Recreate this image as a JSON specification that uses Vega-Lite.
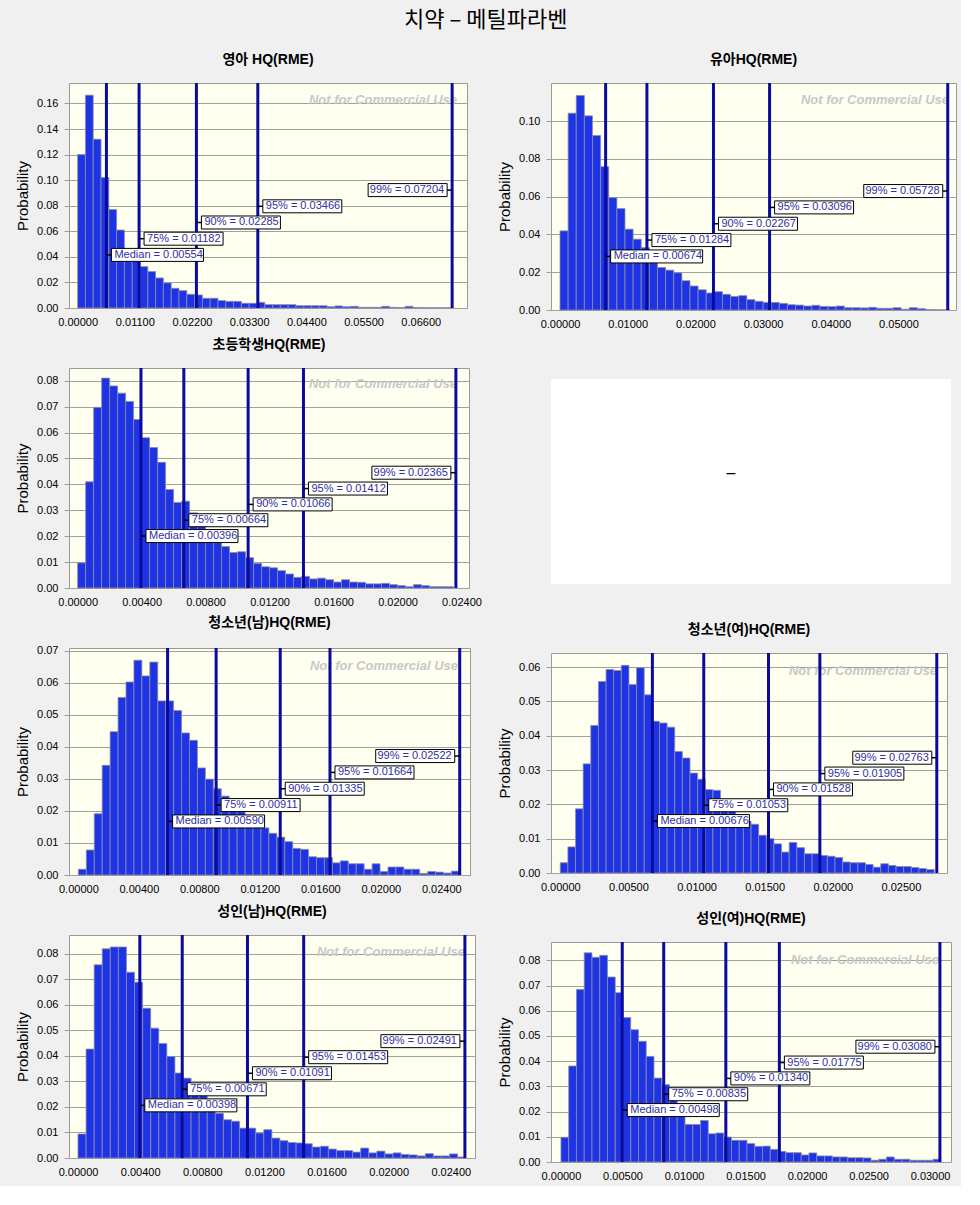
{
"$schema": "https://vega.github.io/schema/vega-lite/v6.json",
"padding": {"left": 15, "top": 9, "right": 4, "bottom": 4},
"title": {"text": "치약 – 메틸파라벤", "font": "Noto Sans CJK KR", "fontSize": 22, "fontWeight": "normal", "offset": 20, "anchor": "middle", "color": "black"},
"datasets": {
"b1": [
{"lo":0,"hi":0.0015,"p":0.12},{"lo":0.0015,"hi":0.003,"p":0.1665},{"lo":0.003,"hi":0.0045,"p":0.132},{"lo":0.0045,"hi":0.006,"p":0.102},{"lo":0.006,"hi":0.0075,"p":0.077},{"lo":0.0075,"hi":0.009,"p":0.061},{"lo":0.009,"hi":0.0105,"p":0.045},{"lo":0.0105,"hi":0.012,"p":0.04},{"lo":0.012,"hi":0.0135,"p":0.0324},{"lo":0.0135,"hi":0.015,"p":0.0285},
{"lo":0.015,"hi":0.0165,"p":0.0235},{"lo":0.0165,"hi":0.018,"p":0.0196},{"lo":0.018,"hi":0.0195,"p":0.0154},{"lo":0.0195,"hi":0.021,"p":0.0136},{"lo":0.021,"hi":0.0225,"p":0.0107},{"lo":0.0225,"hi":0.024,"p":0.0102},{"lo":0.024,"hi":0.0255,"p":0.0076},{"lo":0.0255,"hi":0.027,"p":0.0076},{"lo":0.027,"hi":0.0285,"p":0.0058},{"lo":0.0285,"hi":0.03,"p":0.0052},
{"lo":0.03,"hi":0.0315,"p":0.0052},{"lo":0.0315,"hi":0.033,"p":0.0037},{"lo":0.033,"hi":0.0345,"p":0.0037},{"lo":0.0345,"hi":0.036,"p":0.0044},{"lo":0.036,"hi":0.0375,"p":0.0026},{"lo":0.0375,"hi":0.039,"p":0.0026},{"lo":0.039,"hi":0.0405,"p":0.0026},{"lo":0.0405,"hi":0.042,"p":0.0026},{"lo":0.042,"hi":0.0435,"p":0.0018},{"lo":0.0435,"hi":0.045,"p":0.0018},
{"lo":0.045,"hi":0.0465,"p":0.0018},{"lo":0.0465,"hi":0.048,"p":0.0018},{"lo":0.048,"hi":0.0495,"p":0.001},{"lo":0.0495,"hi":0.051,"p":0.0016},{"lo":0.051,"hi":0.0525,"p":0.001},{"lo":0.0525,"hi":0.054,"p":0.0013},{"lo":0.054,"hi":0.0555,"p":0.0005},{"lo":0.0555,"hi":0.057,"p":0.0005},{"lo":0.057,"hi":0.0585,"p":0.0005},{"lo":0.0585,"hi":0.06,"p":0.0013},
{"lo":0.06,"hi":0.0615,"p":0.0005},{"lo":0.0615,"hi":0.063,"p":0.0003},{"lo":0.063,"hi":0.0645,"p":0.0013},{"lo":0.0645,"hi":0.066,"p":0.0003},{"lo":0.066,"hi":0.0675,"p":0.0002},{"lo":0.0675,"hi":0.069,"p":0.0002},{"lo":0.069,"hi":0.0705,"p":0.0001},{"lo":0.0705,"hi":0.072,"p":0.0001}
],
"b2": [
{"lo":0,"hi":0.0012,"p":0.0419},{"lo":0.0012,"hi":0.0024,"p":0.1042},{"lo":0.0024,"hi":0.0036,"p":0.1136},{"lo":0.0036,"hi":0.0048,"p":0.1028},{"lo":0.0048,"hi":0.006,"p":0.0924},{"lo":0.006,"hi":0.0072,"p":0.0759},{"lo":0.0072,"hi":0.0084,"p":0.0595},{"lo":0.0084,"hi":0.0096,"p":0.0537},{"lo":0.0096,"hi":0.0108,"p":0.0428},{"lo":0.0108,"hi":0.012,"p":0.0375},
{"lo":0.012,"hi":0.0132,"p":0.033},{"lo":0.0132,"hi":0.0144,"p":0.027},{"lo":0.0144,"hi":0.0156,"p":0.0225},{"lo":0.0156,"hi":0.0168,"p":0.0211},{"lo":0.0168,"hi":0.018,"p":0.0197},{"lo":0.018,"hi":0.0192,"p":0.0155},{"lo":0.0192,"hi":0.0204,"p":0.0127},{"lo":0.0204,"hi":0.0216,"p":0.0107},{"lo":0.0216,"hi":0.0228,"p":0.009},{"lo":0.0228,"hi":0.024,"p":0.0097},
{"lo":0.024,"hi":0.0252,"p":0.0083},{"lo":0.0252,"hi":0.0264,"p":0.0072},{"lo":0.0264,"hi":0.0276,"p":0.0076},{"lo":0.0276,"hi":0.0288,"p":0.0055},{"lo":0.0288,"hi":0.03,"p":0.0046},{"lo":0.03,"hi":0.0312,"p":0.004},{"lo":0.0312,"hi":0.0324,"p":0.004},{"lo":0.0324,"hi":0.0336,"p":0.0035},{"lo":0.0336,"hi":0.0348,"p":0.0028},{"lo":0.0348,"hi":0.036,"p":0.0026},
{"lo":0.036,"hi":0.0372,"p":0.0021},{"lo":0.0372,"hi":0.0384,"p":0.0025},{"lo":0.0384,"hi":0.0396,"p":0.0019},{"lo":0.0396,"hi":0.0408,"p":0.0018},{"lo":0.0408,"hi":0.042,"p":0.0021},{"lo":0.042,"hi":0.0432,"p":0.0012},{"lo":0.0432,"hi":0.0444,"p":0.0012},{"lo":0.0444,"hi":0.0456,"p":0.0011},{"lo":0.0456,"hi":0.0468,"p":0.0014},{"lo":0.0468,"hi":0.048,"p":0.0009},
{"lo":0.048,"hi":0.0492,"p":0.0009},{"lo":0.0492,"hi":0.0504,"p":0.0012},{"lo":0.0504,"hi":0.0516,"p":0.0004},{"lo":0.0516,"hi":0.0528,"p":0.0012},{"lo":0.0528,"hi":0.054,"p":0.0007},{"lo":0.054,"hi":0.0552,"p":0.0002},{"lo":0.0552,"hi":0.0564,"p":0.0001},{"lo":0.0564,"hi":0.0576,"p":0.0001}
],
"b3": [
{"lo":0,"hi":0.0005,"p":0.0097},{"lo":0.0005,"hi":0.001,"p":0.041},{"lo":0.001,"hi":0.0015,"p":0.0697},{"lo":0.0015,"hi":0.002,"p":0.081},{"lo":0.002,"hi":0.0025,"p":0.078},{"lo":0.0025,"hi":0.003,"p":0.0752},{"lo":0.003,"hi":0.0035,"p":0.072},{"lo":0.0035,"hi":0.004,"p":0.065},{"lo":0.004,"hi":0.0045,"p":0.058},{"lo":0.0045,"hi":0.005,"p":0.0542},
{"lo":0.005,"hi":0.0055,"p":0.0485},{"lo":0.0055,"hi":0.006,"p":0.038},{"lo":0.006,"hi":0.0065,"p":0.033},{"lo":0.0065,"hi":0.007,"p":0.0335},{"lo":0.007,"hi":0.0075,"p":0.029},{"lo":0.0075,"hi":0.008,"p":0.026},{"lo":0.008,"hi":0.0085,"p":0.021},{"lo":0.0085,"hi":0.009,"p":0.0175},{"lo":0.009,"hi":0.0095,"p":0.016},{"lo":0.0095,"hi":0.01,"p":0.0137},
{"lo":0.01,"hi":0.0105,"p":0.014},{"lo":0.0105,"hi":0.011,"p":0.0117},{"lo":0.011,"hi":0.0115,"p":0.0095},{"lo":0.0115,"hi":0.012,"p":0.0082},{"lo":0.012,"hi":0.0125,"p":0.0078},{"lo":0.0125,"hi":0.013,"p":0.0067},{"lo":0.013,"hi":0.0135,"p":0.0054},{"lo":0.0135,"hi":0.014,"p":0.0041},{"lo":0.014,"hi":0.0145,"p":0.0045},{"lo":0.0145,"hi":0.015,"p":0.0035},
{"lo":0.015,"hi":0.0155,"p":0.0038},{"lo":0.0155,"hi":0.016,"p":0.0032},{"lo":0.016,"hi":0.0165,"p":0.0023},{"lo":0.0165,"hi":0.017,"p":0.0032},{"lo":0.017,"hi":0.0175,"p":0.0023},{"lo":0.0175,"hi":0.018,"p":0.0022},{"lo":0.018,"hi":0.0185,"p":0.0016},{"lo":0.0185,"hi":0.019,"p":0.0016},{"lo":0.019,"hi":0.0195,"p":0.0018},{"lo":0.0195,"hi":0.02,"p":0.0013},
{"lo":0.02,"hi":0.0205,"p":0.0009},{"lo":0.0205,"hi":0.021,"p":0.0005},{"lo":0.021,"hi":0.0215,"p":0.0013},{"lo":0.0215,"hi":0.022,"p":0.0009},{"lo":0.022,"hi":0.0225,"p":0.0005},{"lo":0.0225,"hi":0.023,"p":0.0005},{"lo":0.023,"hi":0.0235,"p":0.0005}
],
"b4": [
{"lo":0,"hi":0.000525,"p":0.0018},{"lo":0.000525,"hi":0.00105,"p":0.0078},{"lo":0.00105,"hi":0.001575,"p":0.0191},{"lo":0.001575,"hi":0.0021,"p":0.0342},{"lo":0.0021,"hi":0.002625,"p":0.0447},{"lo":0.002625,"hi":0.00315,"p":0.0554},{"lo":0.00315,"hi":0.003675,"p":0.0602},{"lo":0.003675,"hi":0.0042,"p":0.067},{"lo":0.0042,"hi":0.004725,"p":0.0621},{"lo":0.004725,"hi":0.00525,"p":0.0664},
{"lo":0.00525,"hi":0.005775,"p":0.0543},{"lo":0.005775,"hi":0.0063,"p":0.0543},{"lo":0.0063,"hi":0.006825,"p":0.0513},{"lo":0.006825,"hi":0.00735,"p":0.0443},{"lo":0.00735,"hi":0.007875,"p":0.042},{"lo":0.007875,"hi":0.0084,"p":0.0334},{"lo":0.0084,"hi":0.008925,"p":0.0299},{"lo":0.008925,"hi":0.00945,"p":0.0269},{"lo":0.00945,"hi":0.009975,"p":0.0246},{"lo":0.009975,"hi":0.0105,"p":0.022},
{"lo":0.0105,"hi":0.011025,"p":0.02},{"lo":0.011025,"hi":0.01155,"p":0.018},{"lo":0.01155,"hi":0.012075,"p":0.0155},{"lo":0.012075,"hi":0.0126,"p":0.0147},{"lo":0.0126,"hi":0.013125,"p":0.013},{"lo":0.013125,"hi":0.01365,"p":0.0118},{"lo":0.01365,"hi":0.014175,"p":0.0104},{"lo":0.014175,"hi":0.0147,"p":0.0083},{"lo":0.0147,"hi":0.015225,"p":0.008},{"lo":0.015225,"hi":0.01575,"p":0.0057},
{"lo":0.01575,"hi":0.016275,"p":0.0054},{"lo":0.016275,"hi":0.0168,"p":0.0054},{"lo":0.0168,"hi":0.017325,"p":0.0038},{"lo":0.017325,"hi":0.01785,"p":0.0044},{"lo":0.01785,"hi":0.018375,"p":0.0035},{"lo":0.018375,"hi":0.0189,"p":0.0035},{"lo":0.0189,"hi":0.019425,"p":0.0018},{"lo":0.019425,"hi":0.01995,"p":0.0035},{"lo":0.01995,"hi":0.020475,"p":0.0011},{"lo":0.020475,"hi":0.021,"p":0.0025},
{"lo":0.021,"hi":0.021525,"p":0.0025},{"lo":0.021525,"hi":0.02205,"p":0.0018},{"lo":0.02205,"hi":0.022575,"p":0.0018},{"lo":0.022575,"hi":0.0231,"p":0.0005},{"lo":0.0231,"hi":0.023625,"p":0.0011},{"lo":0.023625,"hi":0.02415,"p":0.0009},{"lo":0.02415,"hi":0.024675,"p":0.0006},{"lo":0.024675,"hi":0.0252,"p":0.0012}
],
"b5": [
{"lo":0,"hi":0.00056,"p":0.003},{"lo":0.00056,"hi":0.00112,"p":0.0076},{"lo":0.00112,"hi":0.00168,"p":0.0187},{"lo":0.00168,"hi":0.00224,"p":0.0318},{"lo":0.00224,"hi":0.0028,"p":0.043},{"lo":0.0028,"hi":0.00336,"p":0.0558},{"lo":0.00336,"hi":0.00392,"p":0.0593},{"lo":0.00392,"hi":0.00448,"p":0.059},{"lo":0.00448,"hi":0.00504,"p":0.0605},{"lo":0.00504,"hi":0.0056,"p":0.0549},
{"lo":0.0056,"hi":0.00616,"p":0.0598},{"lo":0.00616,"hi":0.00672,"p":0.0519},{"lo":0.00672,"hi":0.00728,"p":0.0442},{"lo":0.00728,"hi":0.00784,"p":0.0437},{"lo":0.00784,"hi":0.0084,"p":0.0425},{"lo":0.0084,"hi":0.00896,"p":0.0354},{"lo":0.00896,"hi":0.00952,"p":0.0335},{"lo":0.00952,"hi":0.01008,"p":0.0291},{"lo":0.01008,"hi":0.01064,"p":0.0273},{"lo":0.01064,"hi":0.0112,"p":0.0243},
{"lo":0.0112,"hi":0.01176,"p":0.0241},{"lo":0.01176,"hi":0.01232,"p":0.021},{"lo":0.01232,"hi":0.01288,"p":0.019},{"lo":0.01288,"hi":0.01344,"p":0.0165},{"lo":0.01344,"hi":0.014,"p":0.0151},{"lo":0.014,"hi":0.01456,"p":0.0142},{"lo":0.01456,"hi":0.01512,"p":0.011},{"lo":0.01512,"hi":0.01568,"p":0.01},{"lo":0.01568,"hi":0.01624,"p":0.0085},{"lo":0.01624,"hi":0.0168,"p":0.0061},
{"lo":0.0168,"hi":0.01736,"p":0.0089},{"lo":0.01736,"hi":0.01792,"p":0.0074},{"lo":0.01792,"hi":0.01848,"p":0.0056},{"lo":0.01848,"hi":0.01904,"p":0.0056},{"lo":0.01904,"hi":0.0196,"p":0.0051},{"lo":0.0196,"hi":0.02016,"p":0.0049},{"lo":0.02016,"hi":0.02072,"p":0.0045},{"lo":0.02072,"hi":0.02128,"p":0.0032},{"lo":0.02128,"hi":0.02184,"p":0.003},{"lo":0.02184,"hi":0.0224,"p":0.003},
{"lo":0.0224,"hi":0.02296,"p":0.0025},{"lo":0.02296,"hi":0.02352,"p":0.0017},{"lo":0.02352,"hi":0.02408,"p":0.0027},{"lo":0.02408,"hi":0.02464,"p":0.0022},{"lo":0.02464,"hi":0.0252,"p":0.0019},{"lo":0.0252,"hi":0.02576,"p":0.0019},{"lo":0.02576,"hi":0.02632,"p":0.0016},{"lo":0.02632,"hi":0.02688,"p":0.0013},{"lo":0.02688,"hi":0.02744,"p":0.001}
],
"b6": [
{"lo":0,"hi":0.00052,"p":0.0094},{"lo":0.00052,"hi":0.00104,"p":0.0427},{"lo":0.00104,"hi":0.00156,"p":0.0757},{"lo":0.00156,"hi":0.00208,"p":0.082},{"lo":0.00208,"hi":0.0026,"p":0.0827},{"lo":0.0026,"hi":0.00312,"p":0.0827},{"lo":0.00312,"hi":0.00364,"p":0.0728},{"lo":0.00364,"hi":0.00416,"p":0.0689},{"lo":0.00416,"hi":0.00468,"p":0.0587},{"lo":0.00468,"hi":0.0052,"p":0.0509},
{"lo":0.0052,"hi":0.00572,"p":0.0449},{"lo":0.00572,"hi":0.00624,"p":0.0398},{"lo":0.00624,"hi":0.00676,"p":0.0333},{"lo":0.00676,"hi":0.00728,"p":0.0313},{"lo":0.00728,"hi":0.0078,"p":0.0285},{"lo":0.0078,"hi":0.00832,"p":0.025},{"lo":0.00832,"hi":0.00884,"p":0.0215},{"lo":0.00884,"hi":0.00936,"p":0.0175},{"lo":0.00936,"hi":0.00988,"p":0.015},{"lo":0.00988,"hi":0.0104,"p":0.0144},
{"lo":0.0104,"hi":0.01092,"p":0.0117},{"lo":0.01092,"hi":0.01144,"p":0.0117},{"lo":0.01144,"hi":0.01196,"p":0.0098},{"lo":0.01196,"hi":0.01248,"p":0.0111},{"lo":0.01248,"hi":0.013,"p":0.0078},{"lo":0.013,"hi":0.01352,"p":0.0068},{"lo":0.01352,"hi":0.01404,"p":0.0061},{"lo":0.01404,"hi":0.01456,"p":0.0059},{"lo":0.01456,"hi":0.01508,"p":0.0056},{"lo":0.01508,"hi":0.0156,"p":0.0043},
{"lo":0.0156,"hi":0.01612,"p":0.0046},{"lo":0.01612,"hi":0.01664,"p":0.0035},{"lo":0.01664,"hi":0.01716,"p":0.0029},{"lo":0.01716,"hi":0.01768,"p":0.0029},{"lo":0.01768,"hi":0.0182,"p":0.0023},{"lo":0.0182,"hi":0.01872,"p":0.0039},{"lo":0.01872,"hi":0.01924,"p":0.002},{"lo":0.01924,"hi":0.01976,"p":0.0027},{"lo":0.01976,"hi":0.02028,"p":0.0016},{"lo":0.02028,"hi":0.0208,"p":0.002},
{"lo":0.0208,"hi":0.02132,"p":0.0014},{"lo":0.02132,"hi":0.02184,"p":0.0012},{"lo":0.02184,"hi":0.02236,"p":0.0008},{"lo":0.02236,"hi":0.02288,"p":0.0017},{"lo":0.02288,"hi":0.0234,"p":0.0008},{"lo":0.0234,"hi":0.02392,"p":0.0008},{"lo":0.02392,"hi":0.02444,"p":0.0016},{"lo":0.02444,"hi":0.02496,"p":0.0004}
],
"b7": [
{"lo":0,"hi":0.00063,"p":0.0098},{"lo":0.00063,"hi":0.00126,"p":0.0381},{"lo":0.00126,"hi":0.00189,"p":0.0685},{"lo":0.00189,"hi":0.00252,"p":0.083},{"lo":0.00252,"hi":0.00315,"p":0.0812},{"lo":0.00315,"hi":0.00378,"p":0.082},{"lo":0.00378,"hi":0.00441,"p":0.0734},{"lo":0.00441,"hi":0.00504,"p":0.0672},{"lo":0.00504,"hi":0.00567,"p":0.0573},{"lo":0.00567,"hi":0.0063,"p":0.0525},
{"lo":0.0063,"hi":0.00693,"p":0.0479},{"lo":0.00693,"hi":0.00756,"p":0.0419},{"lo":0.00756,"hi":0.00819,"p":0.0333},{"lo":0.00819,"hi":0.00882,"p":0.0307},{"lo":0.00882,"hi":0.00945,"p":0.0265},{"lo":0.00945,"hi":0.01008,"p":0.0205},{"lo":0.01008,"hi":0.01071,"p":0.0149},{"lo":0.01071,"hi":0.01134,"p":0.0149},{"lo":0.01134,"hi":0.01197,"p":0.0165},{"lo":0.01197,"hi":0.0126,"p":0.0112},
{"lo":0.0126,"hi":0.01323,"p":0.0115},{"lo":0.01323,"hi":0.01386,"p":0.0099},{"lo":0.01386,"hi":0.01449,"p":0.0086},{"lo":0.01449,"hi":0.01512,"p":0.0086},{"lo":0.01512,"hi":0.01575,"p":0.0073},{"lo":0.01575,"hi":0.01638,"p":0.0062},{"lo":0.01638,"hi":0.01701,"p":0.0063},{"lo":0.01701,"hi":0.01764,"p":0.005},{"lo":0.01764,"hi":0.01827,"p":0.0042},{"lo":0.01827,"hi":0.0189,"p":0.0037},
{"lo":0.0189,"hi":0.01953,"p":0.0037},{"lo":0.01953,"hi":0.02016,"p":0.0028},{"lo":0.02016,"hi":0.02079,"p":0.0036},{"lo":0.02079,"hi":0.02142,"p":0.0024},{"lo":0.02142,"hi":0.02205,"p":0.0024},{"lo":0.02205,"hi":0.02268,"p":0.002},{"lo":0.02268,"hi":0.02331,"p":0.002},{"lo":0.02331,"hi":0.02394,"p":0.0017},{"lo":0.02394,"hi":0.02457,"p":0.0017},{"lo":0.02457,"hi":0.0252,"p":0.0016},
{"lo":0.0252,"hi":0.02583,"p":0.0007},{"lo":0.02583,"hi":0.02646,"p":0.0011},{"lo":0.02646,"hi":0.02709,"p":0.002},{"lo":0.02709,"hi":0.02772,"p":0.0011},{"lo":0.02772,"hi":0.02835,"p":0.0011},{"lo":0.02835,"hi":0.02898,"p":0.0007},{"lo":0.02898,"hi":0.02961,"p":0.0007},{"lo":0.02961,"hi":0.03024,"p":0.0007},{"lo":0.03024,"hi":0.03087,"p":0.0011}
],
"q1": [{"r":0,"v":0.00554,"t":"Median = 0.00554"},{"r":1,"v":0.01182,"t":"75% = 0.01182"},{"r":2,"v":0.02285,"t":"90% = 0.02285"},{"r":3,"v":0.03466,"t":"95% = 0.03466"},{"r":4,"v":0.07204,"t":"99% = 0.07204"}],
"q2": [{"r":0,"v":0.00674,"t":"Median = 0.00674"},{"r":1,"v":0.01284,"t":"75% = 0.01284"},{"r":2,"v":0.02267,"t":"90% = 0.02267"},{"r":3,"v":0.03096,"t":"95% = 0.03096"},{"r":4,"v":0.05728,"t":"99% = 0.05728"}],
"q3": [{"r":0,"v":0.00396,"t":"Median = 0.00396"},{"r":1,"v":0.00664,"t":"75% = 0.00664"},{"r":2,"v":0.01066,"t":"90% = 0.01066"},{"r":3,"v":0.01412,"t":"95% = 0.01412"},{"r":4,"v":0.02365,"t":"99% = 0.02365"}],
"q4": [{"r":0,"v":0.0059,"t":"Median = 0.00590"},{"r":1,"v":0.00911,"t":"75% = 0.00911"},{"r":2,"v":0.01335,"t":"90% = 0.01335"},{"r":3,"v":0.01664,"t":"95% = 0.01664"},{"r":4,"v":0.02522,"t":"99% = 0.02522"}],
"q5": [{"r":0,"v":0.00676,"t":"Median = 0.00676"},{"r":1,"v":0.01053,"t":"75% = 0.01053"},{"r":2,"v":0.01528,"t":"90% = 0.01528"},{"r":3,"v":0.01905,"t":"95% = 0.01905"},{"r":4,"v":0.02763,"t":"99% = 0.02763"}],
"q6": [{"r":0,"v":0.00398,"t":"Median = 0.00398"},{"r":1,"v":0.00671,"t":"75% = 0.00671"},{"r":2,"v":0.01091,"t":"90% = 0.01091"},{"r":3,"v":0.01453,"t":"95% = 0.01453"},{"r":4,"v":0.02491,"t":"99% = 0.02491"}],
"q7": [{"r":0,"v":0.00498,"t":"Median = 0.00498"},{"r":1,"v":0.00835,"t":"75% = 0.00835"},{"r":2,"v":0.0134,"t":"90% = 0.01340"},{"r":3,"v":0.01775,"t":"95% = 0.01775"},{"r":4,"v":0.0308,"t":"99% = 0.03080"}]
},
"hconcat": [
{"vconcat": [
{"width": 398, "height": 225, "title": "영아 HQ(RME)", "resolve": {"scale": {"y": "independent"}},
 "layer": [
  {"data": {"name": "b1"}, "mark": {"type": "bar", "fill": "#1E34E4", "stroke": "#8C8CA8", "strokeWidth": 0.8},
   "encoding": {"x": {"field": "lo", "type": "quantitative", "scale": {"domain": [-0.00166, 0.0749], "nice": false, "zero": false}, "axis": {"values": [0, 0.011, 0.022, 0.033, 0.044, 0.055, 0.066], "format": ".5f", "title": null}}, "x2": {"field": "hi"},
    "y": {"field": "p", "type": "quantitative", "scale": {"domain": [0, 0.176], "nice": false}, "axis": {"values": [0, 0.02, 0.04, 0.06, 0.08, 0.1, 0.12, 0.14, 0.16], "format": ".2f", "title": "Probability"}}, "y2": {"datum": 0}}},
  {"data": {"values": [{}]}, "mark": {"type": "text", "text": "Not for Commercial Use", "align": "right", "baseline": "middle", "dx": -10, "font": "Liberation Sans", "fontSize": 13, "fontStyle": "italic", "fontWeight": "bold", "color": "#C8C8C8"},
   "encoding": {"x": {"datum": 0.0749, "type": "quantitative", "title": null}, "y": {"datum": 0.926, "type": "quantitative", "scale": {"domain": [0, 1]}, "axis": null}}},
  {"data": {"name": "q1"}, "mark": {"type": "rule", "color": "#0A0A9C", "strokeWidth": 3}, "encoding": {"x": {"field": "v", "type": "quantitative", "title": null}}},
  {"data": {"name": "q1"}, "encoding": {"x": {"field": "v", "type": "quantitative", "title": null}, "y": {"field": "r", "type": "quantitative", "scale": {"domain": [-3.278, 10.611]}, "axis": null}},
   "layer": [
    {"transform": [{"filter": "datum.r < 4"}], "mark": {"type": "rule", "color": "black", "strokeWidth": 1.5, "x2Offset": 6}, "encoding": {"x2": {"field": "v"}}},
    {"transform": [{"filter": "datum.r == 4"}], "mark": {"type": "rule", "color": "black", "strokeWidth": 1.5, "xOffset": -6}, "encoding": {"x2": {"field": "v"}}},
    {"transform": [{"filter": "datum.r == 0"}], "mark": {"type": "rect", "fill": "white", "stroke": "black", "strokeWidth": 1, "xOffset": 5, "x2Offset": 97, "yOffset": -6.5, "y2Offset": 6.5}, "encoding": {"x2": {"field": "v"}, "y2": {"field": "r"}}},
    {"transform": [{"filter": "datum.r > 0 && datum.r < 4"}], "mark": {"type": "rect", "fill": "white", "stroke": "black", "strokeWidth": 1, "xOffset": 5, "x2Offset": 84, "yOffset": -6.5, "y2Offset": 6.5}, "encoding": {"x2": {"field": "v"}, "y2": {"field": "r"}}},
    {"transform": [{"filter": "datum.r == 4"}], "mark": {"type": "rect", "fill": "white", "stroke": "black", "strokeWidth": 1, "xOffset": -84, "x2Offset": -5, "yOffset": -6.5, "y2Offset": 6.5}, "encoding": {"x2": {"field": "v"}, "y2": {"field": "r"}}},
    {"transform": [{"filter": "datum.r < 4"}], "mark": {"type": "text", "align": "left", "baseline": "middle", "dx": 8, "font": "Liberation Sans", "fontSize": 11, "color": "#30309A"}, "encoding": {"text": {"field": "t"}}},
    {"transform": [{"filter": "datum.r == 4"}], "mark": {"type": "text", "align": "right", "baseline": "middle", "dx": -8, "font": "Liberation Sans", "fontSize": 11, "color": "#30309A"}, "encoding": {"text": {"field": "t"}}}
   ]}
 ]},
{"width": 400, "height": 220, "title": "초등학생HQ(RME)", "resolve": {"scale": {"y": "independent"}},
 "layer": [
  {"data": {"name": "b3"}, "mark": {"type": "bar", "fill": "#1E34E4", "stroke": "#8C8CA8", "strokeWidth": 0.8},
   "encoding": {"x": {"field": "lo", "type": "quantitative", "scale": {"domain": [-0.00054, 0.02447], "nice": false, "zero": false}, "axis": {"values": [0, 0.004, 0.008, 0.012, 0.016, 0.02, 0.024], "format": ".5f", "title": null}}, "x2": {"field": "hi"},
    "y": {"field": "p", "type": "quantitative", "scale": {"domain": [0, 0.0849], "nice": false}, "axis": {"values": [0, 0.01, 0.02, 0.03, 0.04, 0.05, 0.06, 0.07, 0.08], "format": ".2f", "title": "Probability"}}, "y2": {"datum": 0}}},
  {"data": {"values": [{}]}, "mark": {"type": "text", "text": "Not for Commercial Use", "align": "right", "baseline": "middle", "dx": -12, "font": "Liberation Sans", "fontSize": 13, "fontStyle": "italic", "fontWeight": "bold", "color": "#C8C8C8"},
   "encoding": {"x": {"datum": 0.02447, "type": "quantitative", "title": null}, "y": {"datum": 0.928, "type": "quantitative", "scale": {"domain": [0, 1]}, "axis": null}}},
  {"data": {"name": "q3"}, "mark": {"type": "rule", "color": "#0A0A9C", "strokeWidth": 3}, "encoding": {"x": {"field": "v", "type": "quantitative", "title": null}}},
  {"data": {"name": "q3"}, "encoding": {"x": {"field": "v", "type": "quantitative", "title": null}, "y": {"field": "r", "type": "quantitative", "scale": {"domain": [-3.278, 10.611]}, "axis": null}},
   "layer": [
    {"transform": [{"filter": "datum.r < 4"}], "mark": {"type": "rule", "color": "black", "strokeWidth": 1.5, "x2Offset": 6}, "encoding": {"x2": {"field": "v"}}},
    {"transform": [{"filter": "datum.r == 4"}], "mark": {"type": "rule", "color": "black", "strokeWidth": 1.5, "xOffset": -6}, "encoding": {"x2": {"field": "v"}}},
    {"transform": [{"filter": "datum.r == 0"}], "mark": {"type": "rect", "fill": "white", "stroke": "black", "strokeWidth": 1, "xOffset": 5, "x2Offset": 97, "yOffset": -6.5, "y2Offset": 6.5}, "encoding": {"x2": {"field": "v"}, "y2": {"field": "r"}}},
    {"transform": [{"filter": "datum.r > 0 && datum.r < 4"}], "mark": {"type": "rect", "fill": "white", "stroke": "black", "strokeWidth": 1, "xOffset": 5, "x2Offset": 84, "yOffset": -6.5, "y2Offset": 6.5}, "encoding": {"x2": {"field": "v"}, "y2": {"field": "r"}}},
    {"transform": [{"filter": "datum.r == 4"}], "mark": {"type": "rect", "fill": "white", "stroke": "black", "strokeWidth": 1, "xOffset": -84, "x2Offset": -5, "yOffset": -6.5, "y2Offset": 6.5}, "encoding": {"x2": {"field": "v"}, "y2": {"field": "r"}}},
    {"transform": [{"filter": "datum.r < 4"}], "mark": {"type": "text", "align": "left", "baseline": "middle", "dx": 8, "font": "Liberation Sans", "fontSize": 11, "color": "#30309A"}, "encoding": {"text": {"field": "t"}}},
    {"transform": [{"filter": "datum.r == 4"}], "mark": {"type": "text", "align": "right", "baseline": "middle", "dx": -8, "font": "Liberation Sans", "fontSize": 11, "color": "#30309A"}, "encoding": {"text": {"field": "t"}}}
   ]}
 ]},
{"width": 401, "height": 227, "title": "청소년(남)HQ(RME)", "resolve": {"scale": {"y": "independent"}},
 "layer": [
  {"data": {"name": "b4"}, "mark": {"type": "bar", "fill": "#1E34E4", "stroke": "#8C8CA8", "strokeWidth": 0.8},
   "encoding": {"x": {"field": "lo", "type": "quantitative", "scale": {"domain": [-0.00062, 0.0259], "nice": false, "zero": false}, "axis": {"values": [0, 0.004, 0.008, 0.012, 0.016, 0.02, 0.024], "format": ".5f", "title": null}}, "x2": {"field": "hi"},
    "y": {"field": "p", "type": "quantitative", "scale": {"domain": [0, 0.0708], "nice": false}, "axis": {"values": [0, 0.01, 0.02, 0.03, 0.04, 0.05, 0.06, 0.07], "format": ".2f", "title": "Probability"}}, "y2": {"datum": 0}}},
  {"data": {"values": [{}]}, "mark": {"type": "text", "text": "Not for Commercial Use", "align": "right", "baseline": "middle", "dx": -12, "font": "Liberation Sans", "fontSize": 13, "fontStyle": "italic", "fontWeight": "bold", "color": "#C8C8C8"},
   "encoding": {"x": {"datum": 0.0259, "type": "quantitative", "title": null}, "y": {"datum": 0.92, "type": "quantitative", "scale": {"domain": [0, 1]}, "axis": null}}},
  {"data": {"name": "q4"}, "mark": {"type": "rule", "color": "#0A0A9C", "strokeWidth": 3}, "encoding": {"x": {"field": "v", "type": "quantitative", "title": null}}},
  {"data": {"name": "q4"}, "encoding": {"x": {"field": "v", "type": "quantitative", "title": null}, "y": {"field": "r", "type": "quantitative", "scale": {"domain": [-3.278, 10.611]}, "axis": null}},
   "layer": [
    {"transform": [{"filter": "datum.r < 4"}], "mark": {"type": "rule", "color": "black", "strokeWidth": 1.5, "x2Offset": 6}, "encoding": {"x2": {"field": "v"}}},
    {"transform": [{"filter": "datum.r == 4"}], "mark": {"type": "rule", "color": "black", "strokeWidth": 1.5, "xOffset": -6}, "encoding": {"x2": {"field": "v"}}},
    {"transform": [{"filter": "datum.r == 0"}], "mark": {"type": "rect", "fill": "white", "stroke": "black", "strokeWidth": 1, "xOffset": 5, "x2Offset": 97, "yOffset": -6.5, "y2Offset": 6.5}, "encoding": {"x2": {"field": "v"}, "y2": {"field": "r"}}},
    {"transform": [{"filter": "datum.r > 0 && datum.r < 4"}], "mark": {"type": "rect", "fill": "white", "stroke": "black", "strokeWidth": 1, "xOffset": 5, "x2Offset": 84, "yOffset": -6.5, "y2Offset": 6.5}, "encoding": {"x2": {"field": "v"}, "y2": {"field": "r"}}},
    {"transform": [{"filter": "datum.r == 4"}], "mark": {"type": "rect", "fill": "white", "stroke": "black", "strokeWidth": 1, "xOffset": -84, "x2Offset": -5, "yOffset": -6.5, "y2Offset": 6.5}, "encoding": {"x2": {"field": "v"}, "y2": {"field": "r"}}},
    {"transform": [{"filter": "datum.r < 4"}], "mark": {"type": "text", "align": "left", "baseline": "middle", "dx": 8, "font": "Liberation Sans", "fontSize": 11, "color": "#30309A"}, "encoding": {"text": {"field": "t"}}},
    {"transform": [{"filter": "datum.r == 4"}], "mark": {"type": "text", "align": "right", "baseline": "middle", "dx": -8, "font": "Liberation Sans", "fontSize": 11, "color": "#30309A"}, "encoding": {"text": {"field": "t"}}}
   ]}
 ]},
{"width": 406, "height": 223, "title": "성인(남)HQ(RME)", "resolve": {"scale": {"y": "independent"}},
 "layer": [
  {"data": {"name": "b6"}, "mark": {"type": "bar", "fill": "#1E34E4", "stroke": "#8C8CA8", "strokeWidth": 0.8},
   "encoding": {"x": {"field": "lo", "type": "quantitative", "scale": {"domain": [-0.00058, 0.02556], "nice": false, "zero": false}, "axis": {"values": [0, 0.004, 0.008, 0.012, 0.016, 0.02, 0.024], "format": ".5f", "title": null}}, "x2": {"field": "hi"},
    "y": {"field": "p", "type": "quantitative", "scale": {"domain": [0, 0.0874], "nice": false}, "axis": {"values": [0, 0.01, 0.02, 0.03, 0.04, 0.05, 0.06, 0.07, 0.08], "format": ".2f", "title": "Probability"}}, "y2": {"datum": 0}}},
  {"data": {"values": [{}]}, "mark": {"type": "text", "text": "Not for Commercial Use", "align": "right", "baseline": "middle", "dx": -10, "font": "Liberation Sans", "fontSize": 13, "fontStyle": "italic", "fontWeight": "bold", "color": "#C8C8C8"},
   "encoding": {"x": {"datum": 0.02556, "type": "quantitative", "title": null}, "y": {"datum": 0.925, "type": "quantitative", "scale": {"domain": [0, 1]}, "axis": null}}},
  {"data": {"name": "q6"}, "mark": {"type": "rule", "color": "#0A0A9C", "strokeWidth": 3}, "encoding": {"x": {"field": "v", "type": "quantitative", "title": null}}},
  {"data": {"name": "q6"}, "encoding": {"x": {"field": "v", "type": "quantitative", "title": null}, "y": {"field": "r", "type": "quantitative", "scale": {"domain": [-3.278, 10.611]}, "axis": null}},
   "layer": [
    {"transform": [{"filter": "datum.r < 4"}], "mark": {"type": "rule", "color": "black", "strokeWidth": 1.5, "x2Offset": 6}, "encoding": {"x2": {"field": "v"}}},
    {"transform": [{"filter": "datum.r == 4"}], "mark": {"type": "rule", "color": "black", "strokeWidth": 1.5, "xOffset": -6}, "encoding": {"x2": {"field": "v"}}},
    {"transform": [{"filter": "datum.r == 0"}], "mark": {"type": "rect", "fill": "white", "stroke": "black", "strokeWidth": 1, "xOffset": 5, "x2Offset": 97, "yOffset": -6.5, "y2Offset": 6.5}, "encoding": {"x2": {"field": "v"}, "y2": {"field": "r"}}},
    {"transform": [{"filter": "datum.r > 0 && datum.r < 4"}], "mark": {"type": "rect", "fill": "white", "stroke": "black", "strokeWidth": 1, "xOffset": 5, "x2Offset": 84, "yOffset": -6.5, "y2Offset": 6.5}, "encoding": {"x2": {"field": "v"}, "y2": {"field": "r"}}},
    {"transform": [{"filter": "datum.r == 4"}], "mark": {"type": "rect", "fill": "white", "stroke": "black", "strokeWidth": 1, "xOffset": -84, "x2Offset": -5, "yOffset": -6.5, "y2Offset": 6.5}, "encoding": {"x2": {"field": "v"}, "y2": {"field": "r"}}},
    {"transform": [{"filter": "datum.r < 4"}], "mark": {"type": "text", "align": "left", "baseline": "middle", "dx": 8, "font": "Liberation Sans", "fontSize": 11, "color": "#30309A"}, "encoding": {"text": {"field": "t"}}},
    {"transform": [{"filter": "datum.r == 4"}], "mark": {"type": "text", "align": "right", "baseline": "middle", "dx": -8, "font": "Liberation Sans", "fontSize": 11, "color": "#30309A"}, "encoding": {"text": {"field": "t"}}}
   ]}
 ]}
], "spacing": 60, "bounds": "flush"},
{"vconcat": [
{"width": 405, "height": 227, "title": "유아HQ(RME)", "resolve": {"scale": {"y": "independent"}},
 "layer": [
  {"data": {"name": "b2"}, "mark": {"type": "bar", "fill": "#1E34E4", "stroke": "#8C8CA8", "strokeWidth": 0.8},
   "encoding": {"x": {"field": "lo", "type": "quantitative", "scale": {"domain": [-0.00133, 0.0585], "nice": false, "zero": false}, "axis": {"values": [0, 0.01, 0.02, 0.03, 0.04, 0.05], "format": ".5f", "title": null}}, "x2": {"field": "hi"},
    "y": {"field": "p", "type": "quantitative", "scale": {"domain": [0, 0.1202], "nice": false}, "axis": {"values": [0, 0.02, 0.04, 0.06, 0.08, 0.1], "format": ".2f", "title": "Probability"}}, "y2": {"datum": 0}}},
  {"data": {"values": [{}]}, "mark": {"type": "text", "text": "Not for Commercial Use", "align": "right", "baseline": "middle", "dx": -7, "font": "Liberation Sans", "fontSize": 13, "fontStyle": "italic", "fontWeight": "bold", "color": "#C8C8C8"},
   "encoding": {"x": {"datum": 0.0585, "type": "quantitative", "title": null}, "y": {"datum": 0.924, "type": "quantitative", "scale": {"domain": [0, 1]}, "axis": null}}},
  {"data": {"name": "q2"}, "mark": {"type": "rule", "color": "#0A0A9C", "strokeWidth": 3}, "encoding": {"x": {"field": "v", "type": "quantitative", "title": null}}},
  {"data": {"name": "q2"}, "encoding": {"x": {"field": "v", "type": "quantitative", "title": null}, "y": {"field": "r", "type": "quantitative", "scale": {"domain": [-3.278, 10.611]}, "axis": null}},
   "layer": [
    {"transform": [{"filter": "datum.r < 4"}], "mark": {"type": "rule", "color": "black", "strokeWidth": 1.5, "x2Offset": 6}, "encoding": {"x2": {"field": "v"}}},
    {"transform": [{"filter": "datum.r == 4"}], "mark": {"type": "rule", "color": "black", "strokeWidth": 1.5, "xOffset": -6}, "encoding": {"x2": {"field": "v"}}},
    {"transform": [{"filter": "datum.r == 0"}], "mark": {"type": "rect", "fill": "white", "stroke": "black", "strokeWidth": 1, "xOffset": 5, "x2Offset": 97, "yOffset": -6.5, "y2Offset": 6.5}, "encoding": {"x2": {"field": "v"}, "y2": {"field": "r"}}},
    {"transform": [{"filter": "datum.r > 0 && datum.r < 4"}], "mark": {"type": "rect", "fill": "white", "stroke": "black", "strokeWidth": 1, "xOffset": 5, "x2Offset": 84, "yOffset": -6.5, "y2Offset": 6.5}, "encoding": {"x2": {"field": "v"}, "y2": {"field": "r"}}},
    {"transform": [{"filter": "datum.r == 4"}], "mark": {"type": "rect", "fill": "white", "stroke": "black", "strokeWidth": 1, "xOffset": -84, "x2Offset": -5, "yOffset": -6.5, "y2Offset": 6.5}, "encoding": {"x2": {"field": "v"}, "y2": {"field": "r"}}},
    {"transform": [{"filter": "datum.r < 4"}], "mark": {"type": "text", "align": "left", "baseline": "middle", "dx": 8, "font": "Liberation Sans", "fontSize": 11, "color": "#30309A"}, "encoding": {"text": {"field": "t"}}},
    {"transform": [{"filter": "datum.r == 4"}], "mark": {"type": "text", "align": "right", "baseline": "middle", "dx": -8, "font": "Liberation Sans", "fontSize": 11, "color": "#30309A"}, "encoding": {"text": {"field": "t"}}}
   ]}
 ]},
{"width": 400, "height": 205, "view": {"fill": "white", "stroke": null}, "data": {"values": [{}]},
 "mark": {"type": "text", "text": "–", "font": "Liberation Sans", "fontSize": 16, "color": "black"},
 "encoding": {"x": {"datum": 0.45, "type": "quantitative", "scale": {"domain": [0, 1]}, "axis": null}, "y": {"datum": 0.54, "type": "quantitative", "scale": {"domain": [0, 1]}, "axis": null}}},
{"width": 396, "height": 220, "title": "청소년(여)HQ(RME)", "resolve": {"scale": {"y": "independent"}},
 "layer": [
  {"data": {"name": "b5"}, "mark": {"type": "bar", "fill": "#1E34E4", "stroke": "#8C8CA8", "strokeWidth": 0.8},
   "encoding": {"x": {"field": "lo", "type": "quantitative", "scale": {"domain": [-0.00068, 0.02838], "nice": false, "zero": false}, "axis": {"values": [0, 0.005, 0.01, 0.015, 0.02, 0.025], "format": ".5f", "title": null}}, "x2": {"field": "hi"},
    "y": {"field": "p", "type": "quantitative", "scale": {"domain": [0, 0.0641], "nice": false}, "axis": {"values": [0, 0.01, 0.02, 0.03, 0.04, 0.05, 0.06], "format": ".2f", "title": "Probability"}}, "y2": {"datum": 0}}},
  {"data": {"values": [{}]}, "mark": {"type": "text", "text": "Not for Commercial Use", "align": "right", "baseline": "middle", "dx": -10, "font": "Liberation Sans", "fontSize": 13, "fontStyle": "italic", "fontWeight": "bold", "color": "#C8C8C8"},
   "encoding": {"x": {"datum": 0.02838, "type": "quantitative", "title": null}, "y": {"datum": 0.92, "type": "quantitative", "scale": {"domain": [0, 1]}, "axis": null}}},
  {"data": {"name": "q5"}, "mark": {"type": "rule", "color": "#0A0A9C", "strokeWidth": 3}, "encoding": {"x": {"field": "v", "type": "quantitative", "title": null}}},
  {"data": {"name": "q5"}, "encoding": {"x": {"field": "v", "type": "quantitative", "title": null}, "y": {"field": "r", "type": "quantitative", "scale": {"domain": [-3.278, 10.611]}, "axis": null}},
   "layer": [
    {"transform": [{"filter": "datum.r < 4"}], "mark": {"type": "rule", "color": "black", "strokeWidth": 1.5, "x2Offset": 6}, "encoding": {"x2": {"field": "v"}}},
    {"transform": [{"filter": "datum.r == 4"}], "mark": {"type": "rule", "color": "black", "strokeWidth": 1.5, "xOffset": -6}, "encoding": {"x2": {"field": "v"}}},
    {"transform": [{"filter": "datum.r == 0"}], "mark": {"type": "rect", "fill": "white", "stroke": "black", "strokeWidth": 1, "xOffset": 5, "x2Offset": 97, "yOffset": -6.5, "y2Offset": 6.5}, "encoding": {"x2": {"field": "v"}, "y2": {"field": "r"}}},
    {"transform": [{"filter": "datum.r > 0 && datum.r < 4"}], "mark": {"type": "rect", "fill": "white", "stroke": "black", "strokeWidth": 1, "xOffset": 5, "x2Offset": 84, "yOffset": -6.5, "y2Offset": 6.5}, "encoding": {"x2": {"field": "v"}, "y2": {"field": "r"}}},
    {"transform": [{"filter": "datum.r == 4"}], "mark": {"type": "rect", "fill": "white", "stroke": "black", "strokeWidth": 1, "xOffset": -84, "x2Offset": -5, "yOffset": -6.5, "y2Offset": 6.5}, "encoding": {"x2": {"field": "v"}, "y2": {"field": "r"}}},
    {"transform": [{"filter": "datum.r < 4"}], "mark": {"type": "text", "align": "left", "baseline": "middle", "dx": 8, "font": "Liberation Sans", "fontSize": 11, "color": "#30309A"}, "encoding": {"text": {"field": "t"}}},
    {"transform": [{"filter": "datum.r == 4"}], "mark": {"type": "text", "align": "right", "baseline": "middle", "dx": -8, "font": "Liberation Sans", "fontSize": 11, "color": "#30309A"}, "encoding": {"text": {"field": "t"}}}
   ]}
 ]},
{"width": 400, "height": 220, "title": "성인(여)HQ(RME)", "resolve": {"scale": {"y": "independent"}},
 "layer": [
  {"data": {"name": "b7"}, "mark": {"type": "bar", "fill": "#1E34E4", "stroke": "#8C8CA8", "strokeWidth": 0.8},
   "encoding": {"x": {"field": "lo", "type": "quantitative", "scale": {"domain": [-0.00081, 0.0317], "nice": false, "zero": false}, "axis": {"values": [0, 0.005, 0.01, 0.015, 0.02, 0.025, 0.03], "format": ".5f", "title": null}}, "x2": {"field": "hi"},
    "y": {"field": "p", "type": "quantitative", "scale": {"domain": [0, 0.0873], "nice": false}, "axis": {"values": [0, 0.01, 0.02, 0.03, 0.04, 0.05, 0.06, 0.07, 0.08], "format": ".2f", "title": "Probability"}}, "y2": {"datum": 0}}},
  {"data": {"values": [{}]}, "mark": {"type": "text", "text": "Not for Commercial Use", "align": "right", "baseline": "middle", "dx": -12, "font": "Liberation Sans", "fontSize": 13, "fontStyle": "italic", "fontWeight": "bold", "color": "#C8C8C8"},
   "encoding": {"x": {"datum": 0.0317, "type": "quantitative", "title": null}, "y": {"datum": 0.92, "type": "quantitative", "scale": {"domain": [0, 1]}, "axis": null}}},
  {"data": {"name": "q7"}, "mark": {"type": "rule", "color": "#0A0A9C", "strokeWidth": 3}, "encoding": {"x": {"field": "v", "type": "quantitative", "title": null}}},
  {"data": {"name": "q7"}, "encoding": {"x": {"field": "v", "type": "quantitative", "title": null}, "y": {"field": "r", "type": "quantitative", "scale": {"domain": [-3.278, 10.611]}, "axis": null}},
   "layer": [
    {"transform": [{"filter": "datum.r < 4"}], "mark": {"type": "rule", "color": "black", "strokeWidth": 1.5, "x2Offset": 6}, "encoding": {"x2": {"field": "v"}}},
    {"transform": [{"filter": "datum.r == 4"}], "mark": {"type": "rule", "color": "black", "strokeWidth": 1.5, "xOffset": -6}, "encoding": {"x2": {"field": "v"}}},
    {"transform": [{"filter": "datum.r == 0"}], "mark": {"type": "rect", "fill": "white", "stroke": "black", "strokeWidth": 1, "xOffset": 5, "x2Offset": 97, "yOffset": -6.5, "y2Offset": 6.5}, "encoding": {"x2": {"field": "v"}, "y2": {"field": "r"}}},
    {"transform": [{"filter": "datum.r > 0 && datum.r < 4"}], "mark": {"type": "rect", "fill": "white", "stroke": "black", "strokeWidth": 1, "xOffset": 5, "x2Offset": 84, "yOffset": -6.5, "y2Offset": 6.5}, "encoding": {"x2": {"field": "v"}, "y2": {"field": "r"}}},
    {"transform": [{"filter": "datum.r == 4"}], "mark": {"type": "rect", "fill": "white", "stroke": "black", "strokeWidth": 1, "xOffset": -84, "x2Offset": -5, "yOffset": -6.5, "y2Offset": 6.5}, "encoding": {"x2": {"field": "v"}, "y2": {"field": "r"}}},
    {"transform": [{"filter": "datum.r < 4"}], "mark": {"type": "text", "align": "left", "baseline": "middle", "dx": 8, "font": "Liberation Sans", "fontSize": 11, "color": "#30309A"}, "encoding": {"text": {"field": "t"}}},
    {"transform": [{"filter": "datum.r == 4"}], "mark": {"type": "text", "align": "right", "baseline": "middle", "dx": -8, "font": "Liberation Sans", "fontSize": 11, "color": "#30309A"}, "encoding": {"text": {"field": "t"}}}
   ]}
 ]}
], "spacing": 69, "bounds": "flush"}
],
"spacing": 15,
"config": {
 "background": "#F0F0F0",
 "view": {"fill": "#FFFFF0", "stroke": "#9A9A9A"},
 "axis": {"domain": false, "ticks": false, "labelFont": "Liberation Sans", "labelFontSize": 11, "labelColor": "black", "titleFont": "Liberation Sans", "titleFontSize": 15, "titleFontWeight": "normal", "titleColor": "black", "gridColor": "#A0A0A0", "gridOpacity": 1, "labelOverlap": false, "labelFlush": false},
 "axisX": {"grid": false, "labelPadding": 8},
 "axisY": {"grid": true, "ticks": true, "tickSize": 5, "tickColor": "#A0A0A0", "labelPadding": 6, "titlePadding": 6},
 "title": {"font": "Liberation Sans, Noto Sans CJK KR", "fontSize": 14, "fontWeight": "bold", "color": "black", "offset": 15}
}
}
